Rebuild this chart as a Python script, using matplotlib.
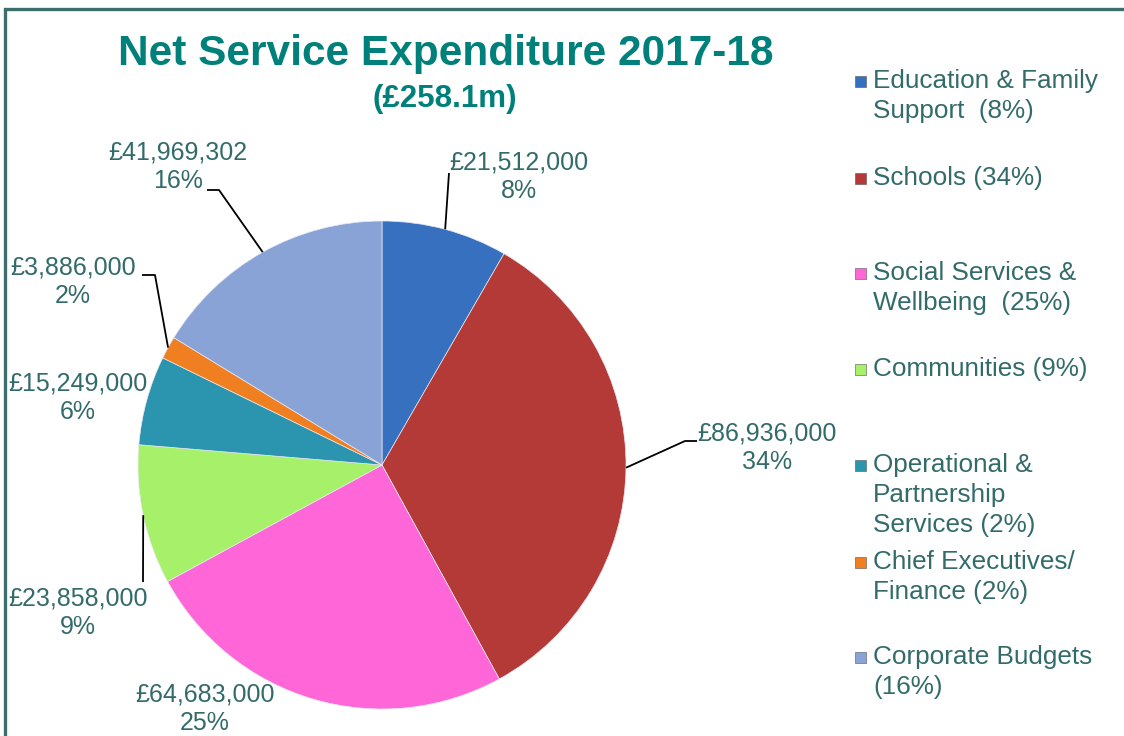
import numpy as np
import matplotlib
matplotlib.use('Agg')
import matplotlib.pyplot as plt
import matplotlib.patches as mpatches

plt.rcParams['font.family'] = ['Liberation Sans', 'DejaVu Sans']

# dados
servicos = ['Education & Family Support', 'Schools', 'Social Services & Wellbeing',
            'Communities', 'Operational & Partnership Services',
            'Chief Executives/ Finance', 'Corporate Budgets']
valores = [21512000, 86936000, 64683000, 23858000, 15249000, 3886000, 41969302]
percentuais = [8, 34, 25, 9, 6, 2, 16]
legenda_linhas = [['Education & Family', 'Support  (8%)'],
                  ['Schools (34%)'],
                  ['Social Services &', 'Wellbeing  (25%)'],
                  ['Communities (9%)'],
                  ['Operational &', 'Partnership', 'Services (2%)'],
                  ['Chief Executives/', 'Finance (2%)'],
                  ['Corporate Budgets', '(16%)']]
cores = ['#3670bf', '#b43a37', '#ff66d8', '#a6f06a', '#2b95b0', '#f07f22', '#8aa3d6']

titulo = 'Net Service Expenditure 2017-18'
subtitulo = '(£258.1m)'

# layout (pixels, origem no topo)
W, H = 1124, 736
CX, CY, R = 382, 465, 244
pos_rotulos = [(519, 177), (767, 448), (205, 709), (78, 613),
               (78, 398), (73, 282), (178, 167)]
cotovelos = [[(449, 173)], [(685, 441), (697, 441)], None, [(143, 582)],
             None, [(155, 275), (142, 275)], [(219, 190), (207, 190)]]
legenda_y = [81, 178, 273, 369, 465, 562, 657]
LEG_DY = 30
COR_TXT = '#336b6b'

fig = plt.figure(figsize=(W / 100, H / 100), dpi=100)
ax = fig.add_axes([0, 0, 1, 1])

def py(y):
    return H - y

# moldura
ax.add_patch(mpatches.Rectangle((5, -20), W + 40, py(9) + 20, fill=False,
                                edgecolor='#3c6e6e', linewidth=2.4))

fatias, _ = ax.pie(valores, colors=cores, startangle=90, counterclock=False,
                   center=(CX, py(CY)), radius=R, frame=True,
                   wedgeprops=dict(edgecolor='#e8e8f0', linewidth=0.5))
ax.set_xlim(0, W)
ax.set_ylim(0, H)
ax.set_aspect('equal')
ax.axis('off')

# rotulos e linhas de chamada
for i, f in enumerate(fatias):
    tx, ty = pos_rotulos[i]
    ax.text(tx, py(ty), f'£{valores[i]:,}\n{percentuais[i]}%', ha='center', va='center',
            multialignment='center', fontsize=18, color=COR_TXT, linespacing=1.22)
    if cotovelos[i] is None:
        continue
    ang = np.deg2rad((f.theta1 + f.theta2) / 2)
    xs = [CX + R * np.cos(ang)] + [p[0] for p in cotovelos[i]]
    ys = [py(CY) + R * np.sin(ang)] + [py(p[1]) for p in cotovelos[i]]
    ax.plot(xs, ys, color='black', linewidth=1.3, solid_capstyle='butt')

# titulo
ax.text(446, py(54), titulo, ha='center', va='center', fontsize=30.5,
        fontweight='bold', color='#00807a')
ax.text(445, py(99), subtitulo, ha='center', va='center', fontsize=22.5,
        fontweight='bold', color='#00807a')

# legenda
for i, linhas in enumerate(legenda_linhas):
    y0 = legenda_y[i]
    ax.add_patch(mpatches.Rectangle((855, py(y0) - 5.5), 11, 11, facecolor=cores[i],
                                    edgecolor='#555555', linewidth=0.4))
    for j, txt in enumerate(linhas):
        ax.text(873, py(y0 + j * LEG_DY), txt, ha='left', va='center',
                fontsize=18.8, color=COR_TXT)

plt.savefig('out.png', dpi=100)
plt.close()
